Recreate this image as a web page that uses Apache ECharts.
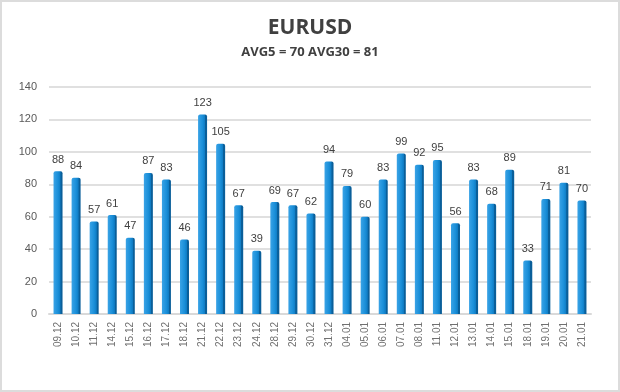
<!DOCTYPE html>
<html><head><meta charset="utf-8">
<script src="https://cdn.jsdelivr.net/npm/echarts@6/dist/echarts.min.js"></script>
<style>
html,body{margin:0;padding:0;background:#fff;}
#frame{position:absolute;left:0;top:0;width:616px;height:388px;border:2px solid #dcdcdc;}
#c{position:absolute;left:0;top:0;width:620px;height:392px;}
</style></head>
<body><div id="frame"></div><div id="c"></div>
<script>
const categories = ["09.12","10.12","11.12","14.12","15.12","16.12","17.12","18.12","21.12","22.12","23.12","24.12","28.12","29.12","30.12","31.12","04.01","05.01","06.01","07.01","08.01","11.01","12.01","13.01","14.01","15.01","18.01","19.01","20.01","21.01"];
const values = [88,84,57,61,47,87,83,46,123,105,67,39,69,67,62,94,79,60,83,99,92,95,56,83,68,89,33,71,81,70];
const titleText = "EURUSD";
const subtitleText = "AVG5 = 70 AVG30 = 81";

const chart = echarts.init(document.getElementById('c'), null, {renderer:'canvas'});
chart.setOption({
  backgroundColor: 'transparent',
  animation: false,
  title: {
    text: titleText,
    subtext: subtitleText,
    left: 'center',
    top: 13,
    itemGap: 7,
    textStyle: {fontFamily: 'Open Sans', fontSize: 21, fontWeight: 'bold', color: '#404040'},
    subtextStyle: {fontFamily: 'Open Sans', fontSize: 13, fontWeight: 'bold', color: '#404040'}
  },
  grid: {left: 49, right: 29, top: 87, bottom: 78, containLabel: false},
  xAxis: {
    type: 'category',
    data: categories,
    axisLine: {show: true, lineStyle: {color: '#d9d9d9', width: 2}},
    axisTick: {show: false},
    axisLabel: {rotate: 90, fontFamily: 'Liberation Sans', fontSize: 10, color: '#707070', margin: 8, interval: 0}
  },
  yAxis: {
    type: 'value',
    min: 0, max: 140, interval: 20,
    axisLine: {show: false},
    axisTick: {show: false},
    splitLine: {lineStyle: {color: '#e0e0e0', width: 2}},
    axisLabel: {fontFamily: 'Liberation Sans', fontSize: 11, color: '#595959', margin: 12}
  },
  series: [{
    type: 'bar',
    data: values,
    barWidth: 9,
    itemStyle: {
      color: new echarts.graphic.LinearGradient(0, 0, 1, 0, [
        {offset: 0, color: '#3aa3e6'},
        {offset: 0.5, color: '#1a8fd9'},
        {offset: 0.75, color: '#0f7cc4'},
        {offset: 0.8, color: '#0a5f9a'},
        {offset: 1, color: '#0a5f9a'}
      ]),
      borderRadius: [2, 2, 0, 0]
    },
    label: {show: true, position: 'top', distance: 6, fontFamily: 'Liberation Sans', fontSize: 11, color: '#404040'}
  }]
});
</script></body></html>
